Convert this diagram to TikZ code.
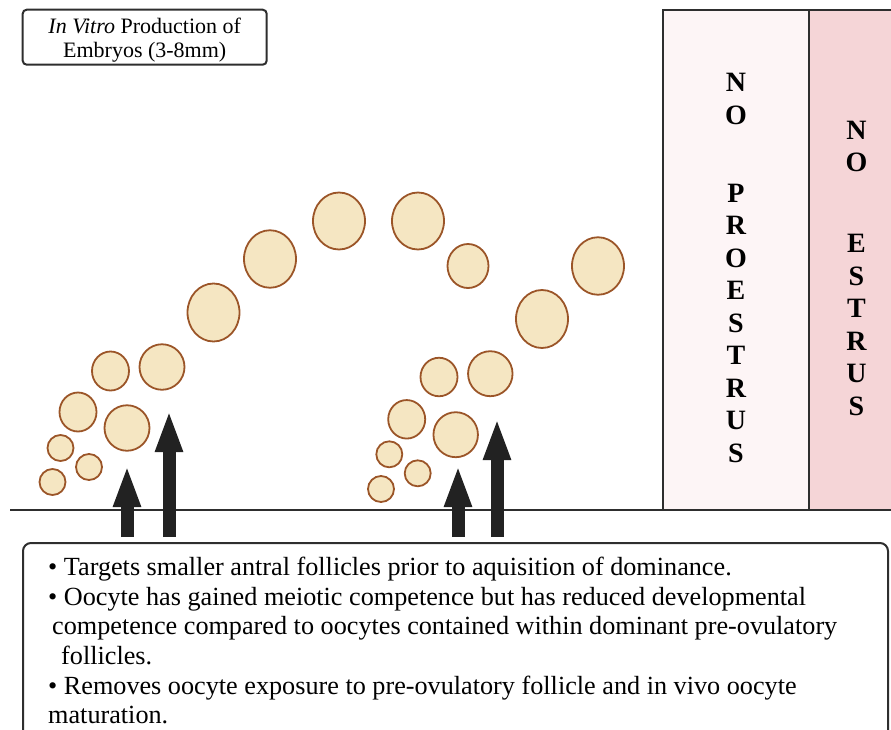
\documentclass[tikz,border=0pt]{standalone}
\usepackage{fontspec}
\setmainfont{Liberation Serif}
\usetikzlibrary{arrows.meta,positioning,shapes.geometric}
\definecolor{follfill}{HTML}{F5E6C2}
\definecolor{follline}{HTML}{9B5528}
\definecolor{proestrus}{HTML}{FDF5F6}
\definecolor{estrus}{HTML}{F5D5D7}
\definecolor{edge}{HTML}{2E2E2E}
\definecolor{arrowfill}{HTML}{222222}
\tikzset{follicle/.style={ellipse,draw=follline,fill=follfill,line width=1.8pt,inner sep=0pt},phasebox/.style={draw=edge,line width=2pt,minimum width=146pt,minimum height=500pt,inner sep=0pt,outer sep=0pt},letters/.style={align=center,font=\bfseries\fontsize{28}{32.5}\selectfont,inner sep=0pt},blockarrow/.style={draw=arrowfill,line width=13pt,-{Triangle[width=25pt,length=42pt]}},titlebox/.style={draw=edge,line width=2pt,rounded corners=4pt,minimum width=244pt,minimum height=55pt,align=center,inner sep=0pt,font=\fontsize{22}{24}\selectfont},notebox/.style={draw=edge,line width=2pt,rounded corners=8pt,minimum width=865pt,minimum height=220pt,inner sep=0pt,outer sep=0pt},notetext/.style={align=left,inner sep=0pt,font=\fontsize{26.2}{29.6}\selectfont}}

\begin{document}
\begin{tikzpicture}[x=1pt,y=-1pt]
\useasboundingbox (0,0) rectangle (891,729);
\clip (0,0) rectangle (891,729);
\node[titlebox] (title) at (144.7,37.2) {\rule{0pt}{21pt}\textit{In Vitro} Production of\\Embryos (3-8mm)};
% follicle waves
\foreach \x/\y/\w/\h [count=\i] in {52.5/482/26/26,60.5/448/26/26,89/467/26/26,78/412/37/39,110.5/371/37/39,127/428/45/45.5,162/367/45/45.5,213.5/312.5/52/58,270/259/52/57.5,339/221/52/57,381/489/26/26,389.3/454.3/26/26,417.7/473.3/26/26,406.7/419.3/37/38.5,439/377/37/38.5,455.7/434.7/44.5/45,490.3/373.7/44.5/45,418/221/52/57,468/266/41/44,542/319/52/58,598/266/52/57.5}{\node[follicle,minimum width=\w*1pt,minimum height=\h*1pt] (f\i) at (\x,\y) {};}
% cycle phases
\node[phasebox,fill=proestrus] (pro) at (736,260) {};
\node[phasebox,fill=estrus,minimum width=91pt,anchor=west] (est) at (pro.east) {};
\node[letters] (protext) at ([yshift=-8pt]pro.center) {N\\O\\[45.5pt]P\\R\\O\\E\\S\\T\\R\\U\\S};
\node[letters] (esttext) at (856.5,268) {N\\O\\[48.5pt]E\\S\\T\\R\\U\\S};
\coordinate (gl) at (10,510);
\coordinate (gr) at (891,510);
\draw[edge,line width=2pt] (gl) -- (gr);
% aspiration arrows
\coordinate (a1b) at (127,537); \coordinate (a1t) at (127,465);
\coordinate (a2b) at (169,537); \coordinate (a2t) at (169,410);
\coordinate (a3b) at (458,537); \coordinate (a3t) at (458,465);
\coordinate (a4b) at (497,537); \coordinate (a4t) at (497,418);
\foreach \i in {1,...,4}{\draw[blockarrow] (a\i b) -- (a\i t);}
\node[notebox,anchor=north west] (notes) at (23,543) {};
\node[notetext,anchor=north west] (notestext) at (48,557) {• Targets smaller antral follicles prior to aquisition of dominance.\\• Oocyte has gained meiotic competence but has reduced developmental\\\hspace*{4pt}competence compared to oocytes contained within dominant pre-ovulatory\\\hspace*{13pt}follicles.\\• Removes oocyte exposure to pre-ovulatory follicle and in vivo oocyte\\maturation.};
\end{tikzpicture}
\end{document}
